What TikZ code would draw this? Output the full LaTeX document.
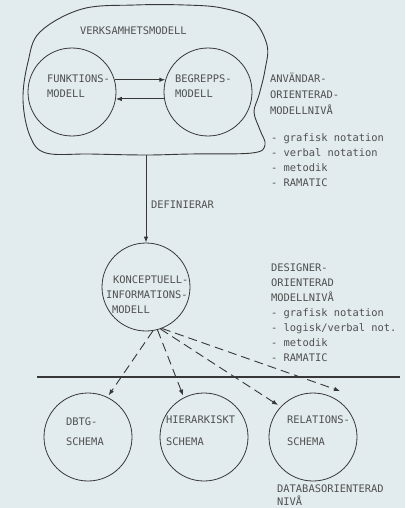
\documentclass[tikz,border=0pt]{standalone}
\usepackage{fontspec}
\newfontfamily\mono{DejaVu Sans Mono}
\usetikzlibrary{arrows.meta}
\definecolor{paper}{RGB}{226,235,238}
\definecolor{ink}{RGB}{55,55,55}
\definecolor{textink}{RGB}{80,80,80}
\begin{document}
\begin{tikzpicture}[x=1pt,y=-1pt,
  ring/.style={circle, draw=ink, line width=0.8pt, minimum size=88pt, inner sep=0pt},
  txt/.style={anchor=base west, inner sep=0pt, font=\mono\fontsize{10.4}{12}\selectfont, text=textink},
  link/.style={draw=ink, line width=0.9pt, -{Latex[length=6pt,width=4.5pt]}},
  dlink/.style={link, dash pattern=on 9pt off 5pt, shorten >=2pt},
]
\useasboundingbox[fill=paper] (0,0) rectangle (405,508);

% enterprise model outline
\draw[ink, line width=0.9pt] plot[smooth cycle, tension=0.6] coordinates {
  (40,32) (82,9) (135,5) (185,5) (222,8) (252,19) (267,45) (265,70)
  (259,95) (254,112) (260,130) (265,145) (252,153) (190,154) (146,155)
  (90,154) (46,153) (30,136) (23,100) (28,62)};
\node[txt] (verk) at (80,34.8) {VERKSAMHETSMODELL};

% model circles
\node[ring] (funk) at (72,92) {};
\node[ring] (begr) at (208,92) {};
\node[ring] (konc) at (146,287) {};
\node[ring] (dbtg) at (88,437) {};
\node[ring] (hier) at (204,437) {};
\node[ring] (rel)  at (313,437) {};

\node[txt] (funk1) at (47,82.8) {FUNKTIONS-};
\node[txt] (funk2) at (47,97.8) {MODELL};
\node[txt] (begr1) at (175,82.8) {BEGREPPS-};
\node[txt] (begr2) at (175,97.8) {MODELL};

\node[txt] (konc1) at (113,283.8) {KONCEPTUELL-};
\node[txt] (konc2) at (106,298.8) {INFORMATIONS-};
\node[txt] (konc3) at (112,313.8) {MODELL};

\node[txt] (dbtg1) at (66,425.8) {DBTG-};
\node[txt] (dbtg2) at (66,445.8) {SCHEMA};
\node[txt] (hier1) at (166,423.8) {HIERARKISKT};
\node[txt] (hier2) at (166,445.8) {SCHEMA};
\node[txt] (rel1)  at (287,423.8) {RELATIONS-};
\node[txt] (rel2)  at (287,445.8) {SCHEMA};

% user oriented level
\node[txt] (anv1) at (270,82.8) {ANVÄNDAR-};
\node[txt] (anv2) at (270,98.8) {ORIENTERAD-};
\node[txt] (anv3) at (270,114.8) {MODELLNIVÅ};
\node[txt] (anv4) at (271,141.5) {- grafisk notation};
\node[txt] (anv5) at (271,156.5) {- verbal notation};
\node[txt] (anv6) at (271,171.5) {- metodik};
\node[txt] (anv7) at (271,186.5) {- RAMATIC};

% designer oriented level
\node[txt] (des1) at (271,271.8) {DESIGNER-};
\node[txt] (des2) at (271,286.8) {ORIENTERAD};
\node[txt] (des3) at (271,301.8) {MODELLNIVÅ};
\node[txt] (des4) at (271,316.8) {- grafisk notation};
\node[txt] (des5) at (271,331.8) {- logisk/verbal not.};
\node[txt] (des6) at (271,346.8) {- metodik};
\node[txt] (des7) at (271,361.8) {- RAMATIC};

% database oriented level
\node[txt] (db1) at (277,492.5) {DATABASORIENTERAD};
\node[txt] (db2) at (277,505) {NIVÅ};

% connectors
\draw[link] (funk.16) -- (begr.164);
\draw[link] (begr.-171) -- (funk.-9);

\coordinate (vtop) at (146,155);
\draw[link] (vtop) -- (konc.north);
\node[txt] (def) at (151,208.5) {DEFINIERAR};

\coordinate (ruleL) at (37,377);
\coordinate (ruleR) at (400,377);
\draw[ink, line width=1.1pt] (ruleL) -- (ruleR);

\draw[dlink] (konc.-81) -- (dbtg.64);
\draw[dlink] (konc.-75) -- (hier.117);
\draw[dlink, shorten >=3pt] (konc.-71) -- (rel.137);
\coordinate (relend) at (340,391);
\draw[dlink, shorten >=0pt] (konc.-69) -- (relend);
\end{tikzpicture}
\end{document}
